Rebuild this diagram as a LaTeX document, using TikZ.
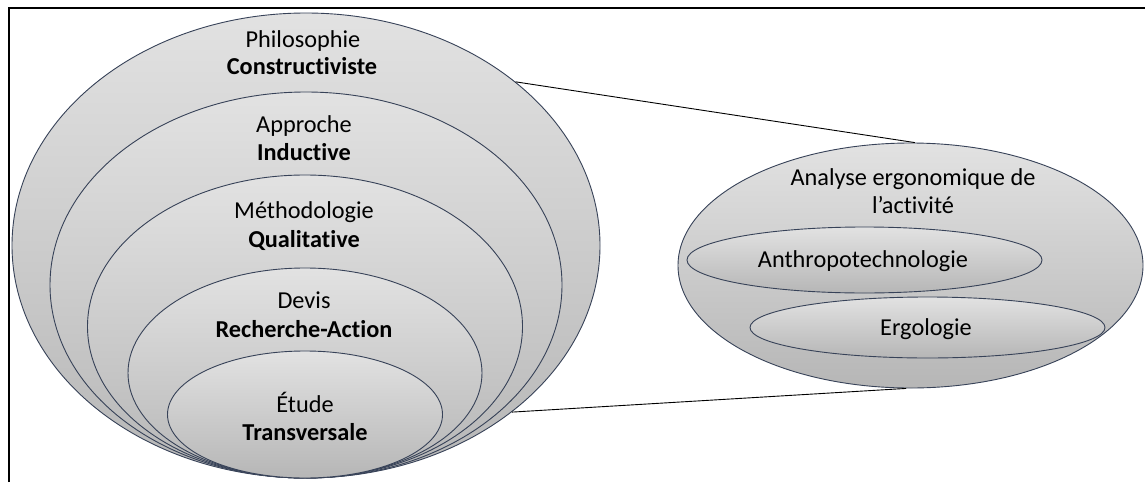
\documentclass[tikz,border=0pt]{standalone}
\usepackage{fontspec}
\setmainfont{Carlito}[Ligatures=NoCommon]
\usetikzlibrary{shapes.geometric}
\definecolor{rim}{RGB}{55,66,88}
\definecolor{fillTop}{RGB}{226,226,226}
\definecolor{fillBot}{RGB}{182,182,182}
\begin{document}
\begin{tikzpicture}[x=1pt,y=-1pt,
  layer/.style={ellipse, draw=rim, line width=0.9pt, top color=fillTop, bottom color=fillBot, inner sep=0pt},
  lbl/.style={font=\fontsize{24.3}{28}\selectfont, anchor=base, inner sep=0pt},
  lblb/.style={font=\fontsize{24.3}{28}\selectfont\bfseries, anchor=base, inner sep=0pt},
  link/.style={draw=black, line width=0.9pt},
  frame/.style={draw=black, line width=2.2pt}]
\useasboundingbox (0,0) rectangle (1145,482);

% partial frame (top and left edges)
\draw[frame] (9,482) -- (9,8) -- (1145,8);

% nested research layers
\node[layer, minimum width=588pt, minimum height=465pt] (philo) at (306,245.5) {};
\node[layer, minimum width=512pt, minimum height=386pt] (appr) at (306,285) {};
\node[layer, minimum width=435pt, minimum height=303pt] (meth) at (305,326.5) {};
\node[layer, minimum width=354pt, minimum height=210pt] (devis) at (305,373) {};
\node[layer, minimum width=275pt, minimum height=127pt] (etude) at (305,414.5) {};

\node[lbl]  (philoA) at (303,47)  {Philosophie};
\node[lblb] (philoB) at (302,74)  {Constructiviste};
\node[lbl]  (apprA)  at (304,132) {Approche};
\node[lblb] (apprB)  at (304,160) {Inductive};
\node[lbl]  (methA)  at (304,218) {Méthodologie};
\node[lblb] (methB)  at (304,247) {Qualitative};
\node[lbl]  (devisA) at (304,308) {Devis};
\node[lblb] (devisB) at (304,337) {Recherche-Action};
\node[lbl]  (etudeA) at (305,412) {Étude};
\node[lblb] (etudeB) at (305,440) {Transversale};

% ergonomic analysis of activity
\node[layer, minimum width=465pt, minimum height=245pt] (aea) at (910.5,265.5) {};
\node[layer, minimum width=355pt, minimum height=66pt] (anthro) at (864.5,260) {};
\node[layer, minimum width=355pt, minimum height=61pt] (ergo) at (927.5,327.5) {};

\node[lbl] (aeaA) at (913,185) {Analyse ergonomique de};
\node[lbl] (aeaB) at (913,213) {l’activité};
\node[lbl] (anthroT) at (863,267) {Anthropotechnologie};
\node[lbl] (ergoT) at (926,335) {Ergologie};

% zoom lines
\draw[link] (philo.38.6) -- (aea.88);
\draw[link] (philo.-39) -- (aea.-92);
\end{tikzpicture}
\end{document}
